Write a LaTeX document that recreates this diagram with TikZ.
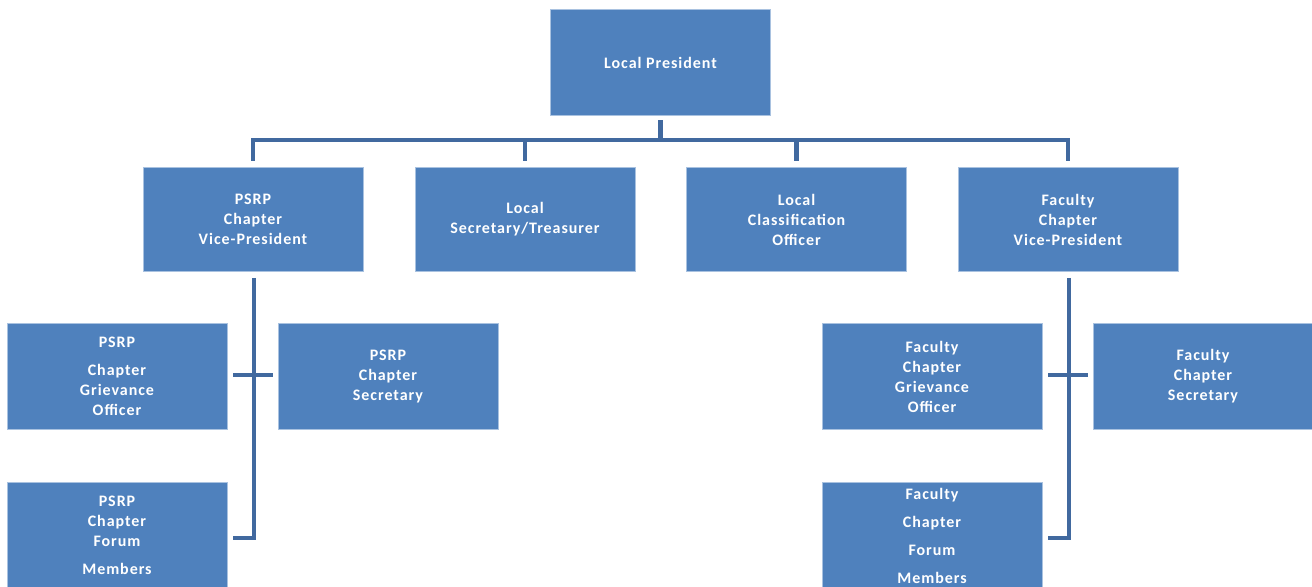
\documentclass[tikz,border=0pt]{standalone}
\usepackage{fontspec}
\setmainfont{Carlito}[LetterSpace=6]
\definecolor{boxblue}{HTML}{4F81BD}
\definecolor{boxedge}{HTML}{A9C2E0}
\definecolor{linkblue}{HTML}{41699F}
\begin{document}
\begin{tikzpicture}[x=0.75pt,y=-0.75pt,
  box/.style={draw=boxedge,line width=0.6pt,fill=boxblue,text=white,font=\bfseries\fontsize{12pt}{15pt}\selectfont,
    align=center,minimum width=165pt,minimum height=80pt,inner sep=0pt},
  conn/.style={draw=linkblue,line width=3.4pt}]
\useasboundingbox (0,0) rectangle (1312,586);
% top
\node[box,minimum height=80pt] (pres) at (660.5,62.5) {Local President};
% second row
\node[box,minimum height=78pt] (vpP) at (253,219.5) {PSRP\\Chapter\\Vice-President};
\node[box,minimum height=78pt] (secT) at (525,219.5) {Local\\Secretary/Treasurer};
\node[box,minimum height=78pt] (cls) at (796.5,219.5) {Local\\Classification\\Officer};
\node[box,minimum height=78pt] (vpF) at (1068,219.5) {Faculty\\Chapter\\Vice-President};
% third row
\node[box] (grvP) at (117,376.5) {PSRP\\[6pt]Chapter\\Grievance\\Officer};
\node[box] (secP) at (388,376.5) {PSRP\\Chapter\\Secretary};
\node[box] (grvF) at (932,376.5) {Faculty\\Chapter\\Grievance\\Officer};
\node[box] (secF) at (1203,376.5) {Faculty\\Chapter\\Secretary};
% fourth row
\node[box] (forP) at (117,535.5) {PSRP\\Chapter\\Forum\\[6pt]Members};
\node[box] (forF) at (932,535.5) {Faculty\\[6pt]Chapter\\[6pt]Forum\\[6pt]Members};
% connectors
\coordinate (bus) at (0,140);
\draw[conn] ([yshift=-3pt]pres.south) -- (pres.south |- bus);
\draw[conn] ([xshift=-1.2pt]vpP.north |- bus) -- ([xshift=1.2pt]vpF.north |- bus);
\draw[conn] (vpP.north |- bus) -- ([yshift=4.5pt]vpP.north);
\draw[conn] (secT.north |- bus) -- ([yshift=4.5pt]secT.north);
\draw[conn] (cls.north |- bus) -- ([yshift=4.5pt]cls.north);
\draw[conn] (vpF.north |- bus) -- ([yshift=4.5pt]vpF.north);
% PSRP branch
\coordinate (pb) at (254,538);
\draw[conn] ([xshift=0.75pt,yshift=-4.5pt]vpP.south) -- ([xshift=0.75pt]vpP.south |- pb) -- ([xshift=4.5pt]forP.east |- pb);
\draw[conn] ([xshift=4.5pt,yshift=1.1pt]grvP.east) -- ([xshift=-3.5pt,yshift=1.1pt]secP.west);
% Faculty branch
\coordinate (fb) at (1069,538);
\draw[conn] ([xshift=0.75pt,yshift=-4.5pt]vpF.south) -- ([xshift=0.75pt]vpF.south |- fb) -- ([xshift=4.5pt]forF.east |- fb);
\draw[conn] ([xshift=4.5pt,yshift=1.1pt]grvF.east) -- ([xshift=-3.5pt,yshift=1.1pt]secF.west);
\end{tikzpicture}
\end{document}
